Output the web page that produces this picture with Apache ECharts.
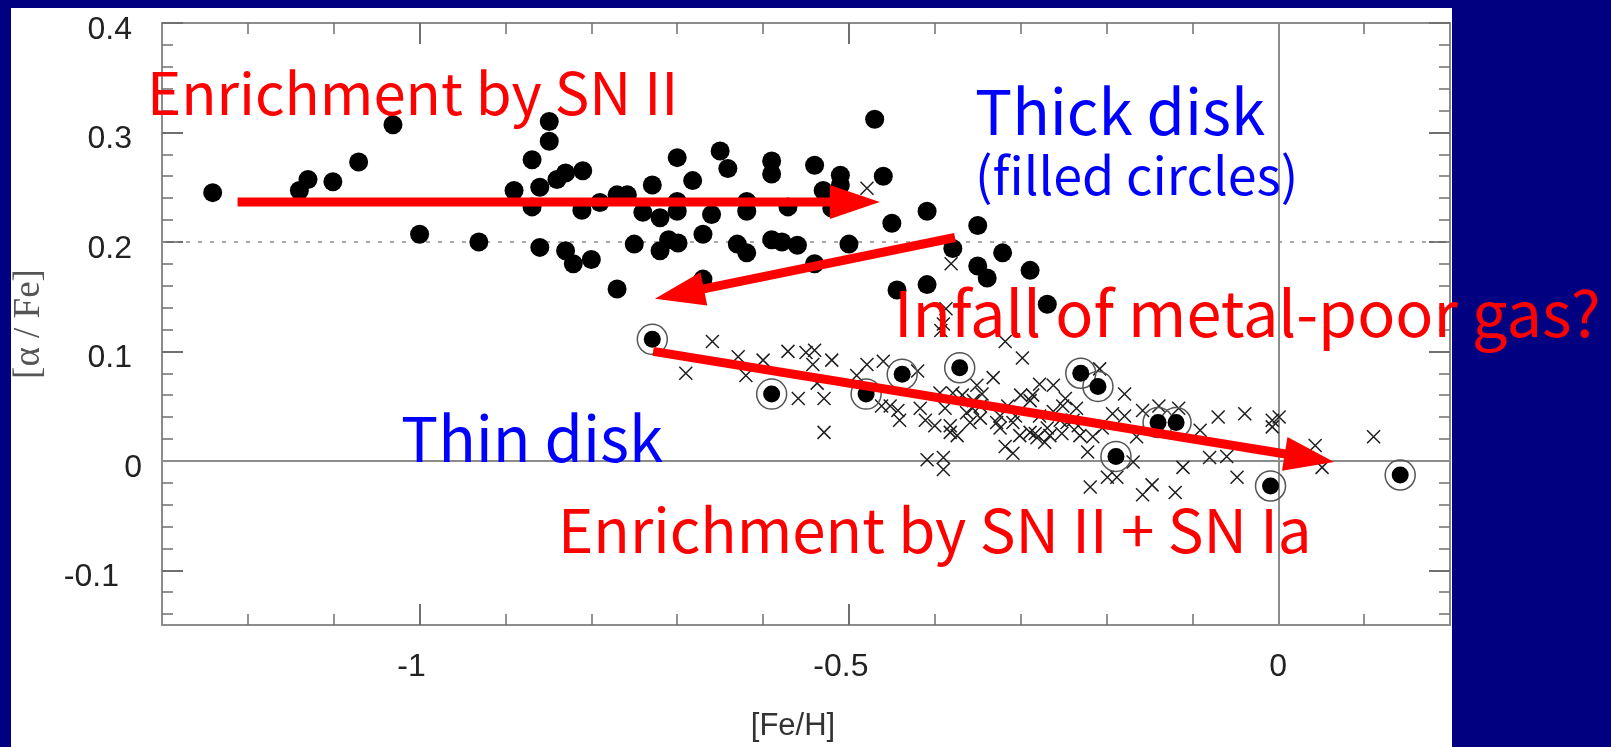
<!DOCTYPE html>
<html>
<head>
<meta charset="utf-8">
<title>[α/Fe] vs [Fe/H]</title>
<script src="https://cdn.jsdelivr.net/npm/echarts@6.0.0/dist/echarts.min.js"></script>
<style>
  html, body { margin: 0; padding: 0; background: #000080; overflow: hidden; }
  #panel { position: absolute; left: 11px; top: 8px; width: 1441px; height: 739px; background: #fff; }
  #chart { position: absolute; left: 0; top: 0; width: 1611px; height: 747px; }
</style>
</head>
<body>
<div id="panel"></div>
<div id="chart"></div>
<script>
// thick disk stars: [Fe/H], [alpha/Fe]
const thickDisk = [
  [-1.241, 0.245], [-1.140, 0.247], [-1.130, 0.257], [-1.101, 0.255], [-1.071, 0.273], [-1.031, 0.307],
  [-0.849, 0.310], [-0.849, 0.292], [-0.869, 0.275], [-0.840, 0.257], [-0.830, 0.263], [-0.810, 0.265],
  [-0.860, 0.250], [-0.890, 0.247], [-0.869, 0.232], [-0.811, 0.229], [-0.790, 0.236], [-0.770, 0.243],
  [-0.758, 0.243], [-0.729, 0.252], [-0.700, 0.277], [-0.682, 0.256], [-0.650, 0.283], [-0.641, 0.267],
  [-0.740, 0.227], [-0.720, 0.222], [-0.700, 0.237], [-0.700, 0.228], [-0.660, 0.225], [-0.619, 0.237],
  [-0.619, 0.228], [-0.590, 0.274], [-0.590, 0.262], [-0.571, 0.232], [-0.540, 0.270], [-0.530, 0.247],
  [-0.510, 0.261], [-0.510, 0.252], [-0.520, 0.231], [-0.470, 0.312], [-0.460, 0.260], [-0.450, 0.217],
  [-1.000, 0.207], [-0.931, 0.200], [-0.860, 0.195], [-0.830, 0.192], [-0.821, 0.180], [-0.800, 0.184],
  [-0.750, 0.198], [-0.720, 0.192], [-0.710, 0.202], [-0.699, 0.199], [-0.670, 0.207], [-0.630, 0.198],
  [-0.619, 0.190], [-0.590, 0.202], [-0.578, 0.200], [-0.560, 0.197], [-0.540, 0.180], [-0.500, 0.198],
  [-0.770, 0.157], [-0.670, 0.166], [-0.444, 0.156], [-0.409, 0.228], [-0.379, 0.194], [-0.350, 0.215],
  [-0.321, 0.190], [-0.350, 0.178], [-0.339, 0.167], [-0.289, 0.174], [-0.409, 0.161], [-0.269, 0.143]
];

// thin disk stars drawn as filled circles with a ring
const thinDiskCircled = [
  [-0.729, 0.111], [-0.590, 0.061], [-0.480, 0.061], [-0.438, 0.079], [-0.371, 0.085], [-0.230, 0.080],
  [-0.210, 0.068], [-0.189, 0.004], [-0.140, 0.035], [-0.119, 0.035], [-0.009, -0.023], [0.142, -0.013]
];

// thin disk stars drawn as crosses
const thinDiskCrosses = [
  [-0.479, 0.249], [-0.381, 0.180], [-0.387, 0.139], [-0.390, 0.125], [-0.393, 0.119], [-0.318, 0.109],
  [-0.298, 0.094], [-0.659, 0.109], [-0.690, 0.080], [-0.629, 0.095], [-0.600, 0.092], [-0.620, 0.078],
  [-0.571, 0.100], [-0.550, 0.099], [-0.540, 0.101], [-0.542, 0.088], [-0.520, 0.092], [-0.537, 0.071],
  [-0.559, 0.057], [-0.529, 0.057], [-0.529, 0.026], [-0.491, 0.078], [-0.479, 0.088], [-0.460, 0.091],
  [-0.462, 0.050], [-0.452, 0.050], [-0.443, 0.046], [-0.441, 0.037], [-0.420, 0.082], [-0.417, 0.048],
  [-0.411, 0.037], [-0.394, 0.062], [-0.388, 0.048], [-0.382, 0.026], [-0.374, 0.023], [-0.368, 0.060],
  [-0.363, 0.044], [-0.359, 0.035], [-0.347, 0.050], [-0.351, 0.069], [-0.332, 0.076], [-0.328, 0.035],
  [-0.409, 0.001], [-0.390, 0.003], [-0.390, -0.008], [-0.315, 0.050], [-0.309, 0.035], [-0.318, 0.013],
  [-0.309, 0.007], [-0.286, 0.060], [-0.281, 0.021], [-0.278, 0.070], [-0.262, 0.069], [-0.266, 0.023],
  [-0.248, 0.057], [-0.246, 0.035], [-0.231, 0.023], [-0.222, 0.008], [-0.219, -0.024],
  [-0.379, 0.062], [-0.345, 0.061], [-0.347, 0.039], [-0.289, 0.055], [-0.278, 0.041], [-0.289, 0.026],
  [-0.269, 0.030], [-0.251, 0.050], [-0.252, 0.025], [-0.239, 0.037], [-0.208, 0.084], [-0.179, 0.061],
  [-0.193, 0.043], [-0.179, 0.041], [-0.216, 0.022], [-0.158, 0.046], [-0.165, 0.022], [-0.169, -0.001],
  [-0.199, -0.015], [-0.188, -0.015], [-0.147, -0.022], [-0.158, -0.031], [-0.120, -0.029], [-0.111, -0.006],
  [-0.091, 0.028], [-0.070, 0.040], [-0.080, 0.003], [-0.060, 0.004], [-0.048, -0.015], [-0.039, 0.043],
  [-0.139, 0.050], [-0.116, 0.048], [-0.007, 0.037], [-0.007, 0.031], [0.001, 0.040], [0.043, 0.014],
  [0.051, -0.006], [0.111, 0.022],
  [-0.324, 0.041], [-0.301, 0.023], [-0.400, 0.032], [-0.355, 0.055], [-0.262, 0.045], [-0.235, 0.048],
  [-0.205, 0.030], [-0.300, 0.060], [-0.382, 0.032], [-0.356, 0.048], [-0.306, 0.041], [-0.283, 0.025],
  [-0.272, 0.017], [-0.233, 0.032], [-0.324, 0.030], [-0.254, 0.037]
];

// red arrows: [x start, y start, x tip, y tip] in data units
const arrows = [
  [-1.212, 0.2365, -0.464, 0.2365],
  [-0.3765, 0.204, -0.726, 0.148],
  [-0.728, 0.100, 0.065, -0.001]
];

const xRange = [-1.3, 0.2];
const yRange = [-0.15, 0.4];
const xMajorTicks = [-1, -0.5, 0];
const xMinorTicks = [-1.2, -1.1, -0.9, -0.8, -0.7, -0.6, -0.4, -0.3, -0.2, -0.1, 0.1];
const yMajorTicks = [-0.1, 0, 0.1, 0.2, 0.3, 0.4];
const yMinorTicks = [-0.14, -0.12, -0.08, -0.06, -0.04, -0.02, 0.02, 0.04, 0.06, 0.08,
  0.12, 0.14, 0.16, 0.18, 0.22, 0.24, 0.26, 0.28, 0.32, 0.34, 0.36, 0.38];

const frameColor = '#8c8c8c';
const tickColor = '#707070';
const labelFont = { color: '#222', fontSize: 32, fontFamily: 'Liberation Sans' };

function axis(position, range, ticks, len, extra) {
  return Object.assign({
    type: 'value',
    position: position,
    min: range[0],
    max: range[1],
    axisLine: { show: false, onZero: false },
    axisTick: { inside: true, length: len, customValues: ticks, lineStyle: { color: tickColor, width: len > 15 ? 2 : 1.5 } },
    axisLabel: { show: false },
    splitLine: { show: false }
  }, extra || {});
}

const frame = { show: true, onZero: false, lineStyle: { color: frameColor, width: 2 } };

const chart = echarts.init(document.getElementById('chart'));

chart.setOption({
  animation: false,
  grid: { left: 162, top: 23, width: 1288, height: 609 },
  xAxis: [
    axis('bottom', xRange, xMajorTicks, 21, {
      axisLine: frame,
      axisLabel: Object.assign({
        show: true,
        customValues: xMajorTicks,
        margin: 26,
        // the minus sign hangs to the left in the original
        formatter: v => (v < 0 ? '{n|' + v + '}' : '' + v),
        rich: { n: Object.assign({ padding: [0, 16, 0, 0] }, labelFont) }
      }, labelFont),
      name: '[Fe/H]',
      nameLocation: 'middle',
      nameGap: 86,
      nameTextStyle: { color: '#333', fontSize: 31, fontFamily: 'Liberation Sans', padding: [0, 26, 0, 0] }
    }),
    axis('bottom', xRange, xMinorTicks, 11),
    axis('top', xRange, xMajorTicks, 21, { axisLine: frame }),
    axis('top', xRange, xMinorTicks, 11)
  ],
  yAxis: [
    axis('left', yRange, yMajorTicks, 21, {
      axisLine: frame,
      axisLabel: Object.assign({
        show: true,
        customValues: yMajorTicks,
        margin: 20,
        padding: [14, 0, 0, 0],
        // labels in the original are not flush: "0" sits further right
        formatter: v => (v === 0 ? '0' : v < 0 ? '{m|' + v + '}' : '{p|' + v + '}'),
        rich: {
          p: Object.assign({ padding: [0, 10, 0, 0] }, labelFont),
          m: Object.assign({ padding: [0, 23, 0, 0] }, labelFont)
        }
      }, labelFont),
      name: '[α / Fe]',
      nameLocation: 'middle',
      nameGap: 114,
      nameTextStyle: { color: '#555', fontSize: 37, fontFamily: 'Liberation Serif' }
    }),
    axis('left', yRange, yMinorTicks, 11),
    axis('right', yRange, yMajorTicks, 21, { axisLine: frame }),
    axis('right', yRange, yMinorTicks, 11)
  ],
  series: [
    {
      name: 'Thin disk',
      type: 'scatter',
      silent: true,
      data: thinDiskCrosses,
      symbol: 'path://M0,0L10,10M10,0L0,10',
      symbolSize: 13,
      itemStyle: { color: 'transparent', borderColor: '#1e1e1e', borderWidth: 1.5, opacity: 1 },
      markLine: {
        silent: true,
        symbol: 'none',
        z: 1,
        label: { show: false },
        emphasis: { disabled: true },
        data: [
          { yAxis: 0, lineStyle: { color: frameColor, width: 2, type: 'solid' } },
          { yAxis: 0.2, lineStyle: { color: frameColor, width: 1.5, type: [4, 8] } },
          { xAxis: 0, lineStyle: { color: frameColor, width: 2, type: 'solid' } }
        ]
      }
    },
    {
      name: 'Thin disk ring',
      type: 'scatter',
      silent: true,
      data: thinDiskCircled,
      symbol: 'circle',
      symbolSize: 30,
      itemStyle: { color: 'transparent', borderColor: '#555', borderWidth: 1.5, opacity: 1 }
    },
    {
      name: 'Thin disk dot',
      type: 'scatter',
      silent: true,
      data: thinDiskCircled,
      symbol: 'circle',
      symbolSize: 17,
      itemStyle: { color: '#000', opacity: 1 }
    },
    {
      name: 'Thick disk',
      type: 'scatter',
      silent: true,
      data: thickDisk,
      symbol: 'circle',
      symbolSize: 19,
      itemStyle: { color: '#000', opacity: 1 }
    },
    {
      name: 'Arrows',
      type: 'custom',
      silent: true,
      clip: false,
      z: 10,
      data: arrows,
      renderItem: function (params, api) {
        const p1 = api.coord([api.value(0), api.value(1)]);
        const p2 = api.coord([api.value(2), api.value(3)]);
        const dx = p2[0] - p1[0], dy = p2[1] - p1[1];
        const len = Math.sqrt(dx * dx + dy * dy);
        const ux = dx / len, uy = dy / len;
        const headLen = 50, headHalf = 17;
        const bx = p2[0] - ux * headLen, by = p2[1] - uy * headLen;
        return {
          type: 'group',
          children: [
            { type: 'line', shape: { x1: p1[0], y1: p1[1], x2: bx + ux * 4, y2: by + uy * 4 },
              style: { stroke: '#ff0000', lineWidth: 9 } },
            { type: 'polygon',
              shape: { points: [p2, [bx - uy * headHalf, by + ux * headHalf], [bx + uy * headHalf, by - ux * headHalf]] },
              style: { fill: '#ff0000' } }
          ]
        };
      }
    }
  ],
  graphic: {
    elements: [
      { type: 'text', x: 147, y: 93, z: 100, silent: true,
        style: { text: 'Enrichment by SN II', fill: '#ff0000', fontSize: 58, fontFamily: 'Noto Sans CJK JP', verticalAlign: 'middle' } },
      { type: 'text', x: 975, y: 111, z: 100, silent: true,
        style: { text: 'Thick disk', fill: '#0000ff', fontSize: 62, fontFamily: 'Noto Sans CJK JP', verticalAlign: 'middle' } },
      { type: 'text', x: 975, y: 175, z: 100, silent: true,
        style: { text: '(filled circles)', fill: '#0000ff', fontSize: 52, fontFamily: 'Noto Sans CJK JP', verticalAlign: 'middle' } },
      { type: 'text', x: 894, y: 313, z: 100, silent: true,
        style: { text: 'Infall of metal-poor gas?', fill: '#ff0000', fontSize: 63, fontFamily: 'Noto Sans CJK JP', verticalAlign: 'middle' } },
      { type: 'text', x: 401, y: 438, z: 100, silent: true,
        style: { text: 'Thin disk', fill: '#0000ff', fontSize: 62, fontFamily: 'Noto Sans CJK JP', verticalAlign: 'middle' } },
      { type: 'text', x: 558, y: 530, z: 100, silent: true,
        style: { text: 'Enrichment by SN II + SN Ia', fill: '#ff0000', fontSize: 60, fontFamily: 'Noto Sans CJK JP', verticalAlign: 'middle' } }
    ]
  }
});

window.addEventListener('resize', () => chart.resize());
</script>
</body>
</html>
